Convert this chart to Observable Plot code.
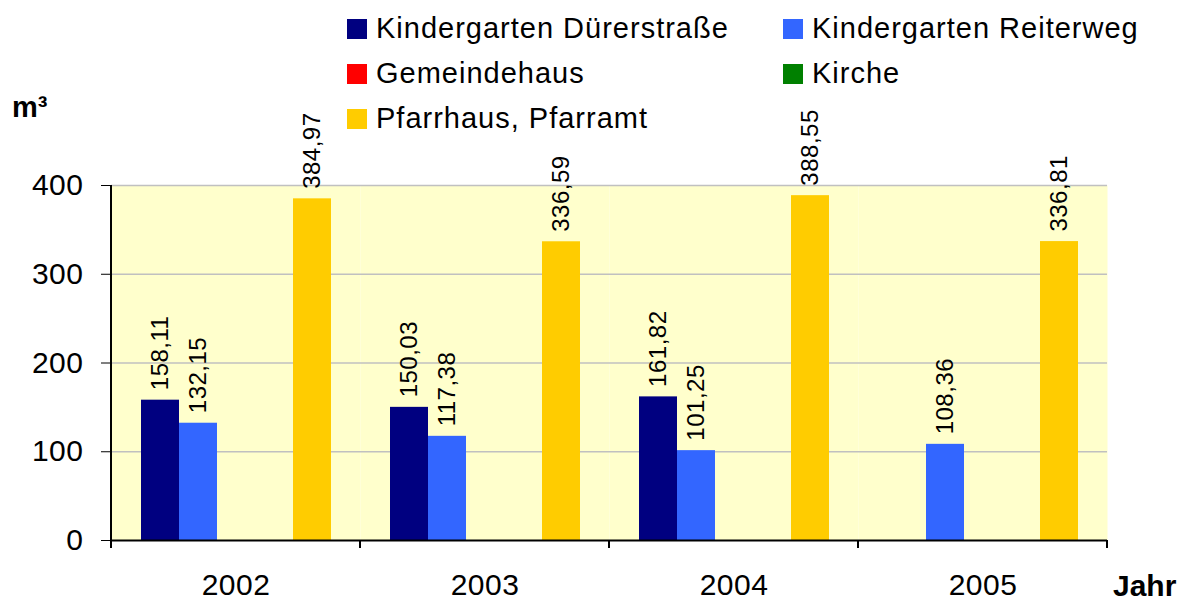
<!DOCTYPE html>
<html>
<head>
<meta charset="utf-8">
<script src="https://cdn.jsdelivr.net/npm/d3@7"></script>
<script src="https://cdn.jsdelivr.net/npm/@observablehq/plot@0.6"></script>
<style>
  body { margin: 0; background: #fff; font-family: "Liberation Sans", Arial, sans-serif; color: #000; }
  #wrap { position: relative; width: 1192px; height: 604px; overflow: hidden; }
  #legend { position: absolute; left: 347px; top: 6px; display: grid; grid-template-columns: 436px auto; }
  .item { display: flex; align-items: center; height: 45px; font-size: 29px; letter-spacing: 1px; white-space: nowrap; }
  .sw { width: 20px; height: 20px; margin-right: 9px; flex: none; }
  .lab { position: absolute; font-weight: bold; line-height: 1; white-space: nowrap; }
  svg text { letter-spacing: 0.5px; }
</style>
</head>
<body>
<div id="wrap"></div>
<script>
const years = ["2002", "2003", "2004", "2005"];
const series = ["Kindergarten Dürerstraße", "Kindergarten Reiterweg", "Gemeindehaus", "Kirche", "Pfarrhaus, Pfarramt"];
const colors = ["#000080", "#3366FF", "#FF0000", "#008000", "#FFCC00"];
const duerer   = [158.11, 150.03, 161.82, null];
const reiter   = [132.15, 117.38, 101.25, 108.36];
const gemeinde = [null, null, null, null];
const kirche   = [null, null, null, null];
const pfarr    = [384.97, 336.59, 388.55, 336.81];
const yTicks = [0, 100, 200, 300, 400];
const gridVals = [100, 200, 300, 400];
const yLabel = "m³";
const xLabel = "Jahr";

const valueArrays = [duerer, reiter, gemeinde, kirche, pfarr];
const data = [];
years.forEach((yr, i) => {
  series.forEach((s, j) => {
    const v = valueArrays[j][i];
    if (v != null) data.push({year: yr, series: s, value: v});
  });
});
const fmt = v => d3.format(".2f")(v).replace(".", ",");

const chart = Plot.plot({
  width: 1192,
  height: 604,
  marginTop: 185,
  marginBottom: 64,
  marginLeft: 110,
  marginRight: 84,
  style: {fontFamily: "'Liberation Sans', Arial, sans-serif", fontSize: "30px", background: "transparent", color: "#000"},
  fx: {domain: years, padding: 0, label: null, tickSize: 0, tickPadding: 33},
  x: {domain: series, axis: null, paddingInner: 0, paddingOuter: 0.76},
  y: {domain: [0, 400], ticks: yTicks, tickSize: 10, tickPadding: 18, label: null, tickFormat: d => String(d)},
  color: {domain: series, range: colors},
  marks: [
    Plot.frame({fill: "#FFFFCC", stroke: "none"}),
    Plot.ruleY(gridVals, {stroke: "#c0c0c0", strokeWidth: 1.5}),
    Plot.barY(data, {fx: "year", x: "series", y: "value", fill: "series"}),
    Plot.text(data, {fx: "year", x: "series", y: "value", text: d => fmt(d.value), rotate: -90, textAnchor: "start", lineAnchor: "middle", dy: -10, fontSize: 24, fill: "#000"}),
    Plot.ruleY([0], {stroke: "#000", strokeWidth: 2})
  ]
});

const svg = d3.select(chart);
const fx = chart.scale("fx");
const ys = chart.scale("y");
const bounds = years.map(d => fx.apply(d)).concat([fx.apply(years[years.length - 1]) + fx.bandwidth]);
svg.append("g")
  .selectAll("line").data(bounds).join("line")
  .attr("x1", d => d).attr("x2", d => d)
  .attr("y1", ys.apply(0)).attr("y2", ys.apply(0) + 8)
  .attr("stroke", "#000").attr("stroke-width", 2);
svg.append("line")
  .attr("x1", bounds[0]).attr("x2", bounds[0])
  .attr("y1", ys.apply(400)).attr("y2", ys.apply(0))
  .attr("stroke", "#000").attr("stroke-width", 2);

const wrap = document.getElementById("wrap");
wrap.appendChild(chart);

const legend = document.createElement("div");
legend.id = "legend";
series.forEach((s, i) => {
  const it = document.createElement("div");
  it.className = "item";
  const sw = document.createElement("span");
  sw.className = "sw";
  sw.style.background = colors[i];
  const t = document.createElement("span");
  t.textContent = s;
  it.appendChild(sw);
  it.appendChild(t);
  legend.appendChild(it);
});
wrap.appendChild(legend);

const ml = document.createElement("div");
ml.className = "lab";
ml.style.left = "12px"; ml.style.top = "93px"; ml.style.fontSize = "29px";
ml.textContent = yLabel;
wrap.appendChild(ml);

const jl = document.createElement("div");
jl.className = "lab";
jl.style.left = "1113px"; jl.style.top = "571px"; jl.style.fontSize = "30px";
jl.textContent = xLabel;
wrap.appendChild(jl);
</script>
</body>
</html>
